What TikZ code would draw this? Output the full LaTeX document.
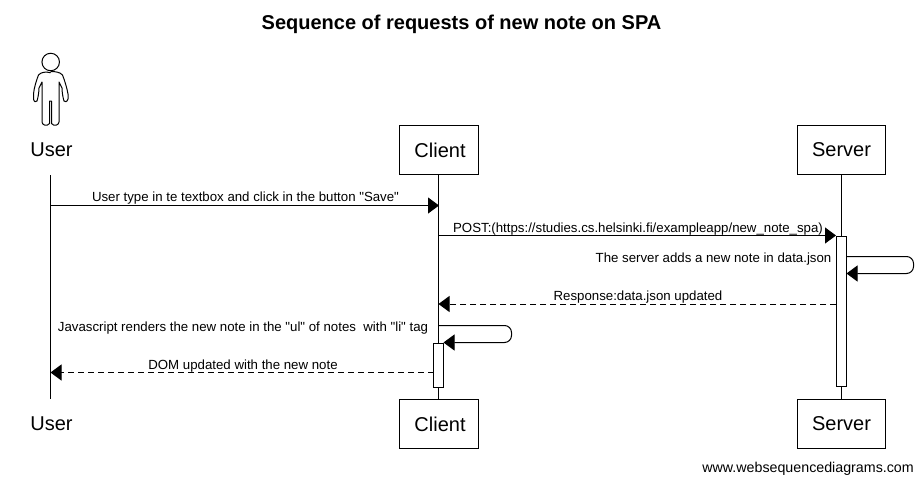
\documentclass[tikz,border=0pt]{standalone}
\usepackage{fontspec}
\setmainfont{Liberation Sans}[Ligatures={TeXOff,NoCommon}]
\usetikzlibrary{arrows.meta}
\tikzset{
  x=1pt,y=-1pt,
  line/.style={draw=black,line width=1pt},
  boxpart/.style={draw=black,fill=white,line width=1pt,minimum height=49pt,inner sep=0pt},
  plainpart/.style={inner sep=0pt,font=\fontsize{20}{24}\selectfont},
  act/.style={draw=black,fill=white,line width=1pt,minimum width=10pt,inner sep=0pt,anchor=north},
  msg/.style={inner sep=0pt,font=\fontsize{13.25}{15}\selectfont,anchor=base},
  tip/.style={-{Triangle[length=11pt,width=16pt]},line width=1pt},
  dashline/.style={dash pattern=on 6pt off 4pt},
}
\begin{document}
\begin{tikzpicture}
\useasboundingbox (0,0) rectangle (923,482);
\fill[white] (0,0) rectangle (923,482);
\node[inner sep=0pt,font=\bfseries\fontsize{20}{24}\selectfont] (title) at (461.5,24) {Sequence of requests of new note on SPA};
% participants
\node[plainpart] (userT) at (51.5,150) {User};
\node[plainpart] (userB) at (51.5,424) {User};
\node[boxpart,minimum width=79pt] (clientT) at (438.5,150) {};
\node[boxpart,minimum width=79pt] (clientB) at (438.5,423.5) {};
\node[plainpart] (clientTL) at (440,150) {Client};
\node[plainpart] (clientBL) at (440,424) {Client};
\node[boxpart,minimum width=88pt] (serverT) at (841,150) {};
\node[boxpart,minimum width=88pt] (serverB) at (841,423.5) {};
\node[plainpart] (serverTL) at (841.5,150) {Server};
\node[plainpart] (serverBL) at (841.5,424) {Server};
% lifelines
\coordinate (uTop) at (50.5,175);
\coordinate (uBot) at (50.5,399);
\draw[line] (uTop) -- (uBot);
\draw[line] (clientT.south) -- (clientB.north);
\draw[line] (serverT.south) -- (serverB.north);
% actor
\node[draw=black,circle,line width=1pt,minimum size=17.5pt,inner sep=0pt] (head) at (50.7,62) {};
\draw[line,line join=round] (head.south) ++(0,1.5)
  .. controls (46,71.5) and (41,72) .. (38.5,75)
  .. controls (36.5,80) and (34,88) .. (33.5,94)
  -- (33.5,99) .. controls (34,102) and (36,102.5) .. (37,101)
  .. controls (38,98) and (39,92) .. (39,88)
  -- (42,82) -- (42,122)
  .. controls (42,125) and (47,127) .. (49.5,123.5)
  -- (49.5,101) -- (51.5,101) -- (51.5,123.5)
  .. controls (54,127) and (59,125) .. (59,122)
  -- (59,82) -- (62,88)
  .. controls (62,92) and (63,98) .. (64,101)
  .. controls (65,102.5) and (67,102) .. (68,99)
  -- (68,94)
  .. controls (67,88) and (64.5,80) .. (62.5,75)
  .. controls (60,72) and (55,71.5) .. (50.7,71.5);
% activations
\node[act,minimum height=150pt] (srvAct) at (841,235.5) {};
\node[act,minimum height=44pt] (cliAct) at (438.5,342.5) {};
% message endpoints
\coordinate (m1s) at (50.5,205.5);
\coordinate (m1e) at (439,205.5);
\coordinate (m2s) at (438.5,235.5);
\coordinate (m2e) at (836,235.5);
\coordinate (m3s) at (846,256.5);
\coordinate (m3e) at (846.5,273.5);
\coordinate (m4s) at (836,304);
\coordinate (m4e) at (438.5,304);
\coordinate (m5s) at (438.5,325.5);
\coordinate (m5e) at (443.5,342.5);
\coordinate (m6s) at (433.5,372.5);
\coordinate (m6e) at (50.5,372.5);
\draw[tip] (m1s) -- (m1e);
\draw[tip] (m2s) -- (m2e);
\draw[tip,rounded corners=7pt] (m3s) -- (913.5,256.5) -- (913.5,273.5) -- (m3e);
\draw[tip,dashline] (m4s) -- (m4e);
\draw[tip,rounded corners=7pt] (m5s) -- (511.5,325.5) -- (511.5,342.5) -- (m5e);
\draw[tip,dashline] (m6s) -- (m6e);
% labels
\node[msg] (l1) at (245.5,201) {User type in te textbox and click in the button "Save"};
\node[msg] (l2) at (638,232) {POST:(https://studies.cs.helsinki.fi/exampleapp/new\_note\_spa)};
\node[msg] (l3) at (713.5,262) {The server adds a new note in data.json};
\node[msg] (l4) at (638,300) {Response:data.json updated};
\node[msg] (l5) at (243,331) {Javascript renders the new note in the "ul" of notes\ \ with "li" tag};
\node[msg] (l6) at (243,369) {DOM updated with the new note};
\node[inner sep=0pt,font=\fontsize{14.25}{16}\selectfont,anchor=base east] (wsd) at (914,472) {www.websequencediagrams.com};
\end{tikzpicture}
\end{document}
